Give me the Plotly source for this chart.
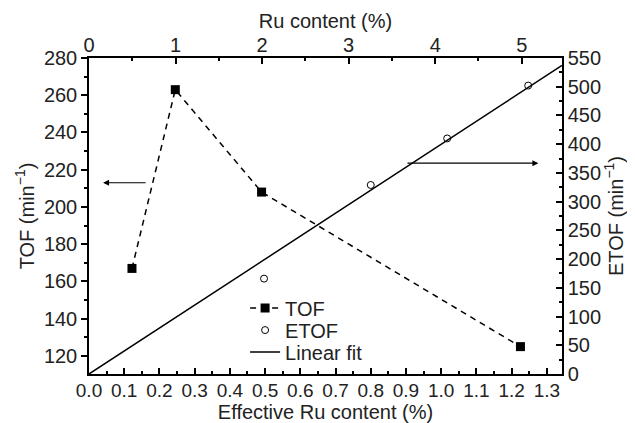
import plotly.graph_objects as go

# Data
tof_x = [0.122, 0.245, 0.49, 1.225]
tof_y = [167, 263, 208, 125]
etof_x = [0.497, 0.80, 1.017, 1.247]
etof_y = [166, 329, 410, 502]
fit_x = [0.0, 1.343]
fit_y = [0.0, 537.0]
ru_top_range = [0, 5.465]

FONT = "Liberation Sans, Arial, sans-serif"
TXT = "#222"
TS = 20
fig = go.Figure()

fig.add_trace(go.Scatter(x=tof_x, y=tof_y, mode="lines+markers", name="TOF",
                         line=dict(color="black", width=1.5, dash="6px,5px"),
                         marker=dict(symbol="square", size=9, color="black"),
                         xaxis="x", yaxis="y", legend="legend"))
fig.add_trace(go.Scatter(x=etof_x, y=etof_y, mode="markers", name="ETOF",
                         marker=dict(symbol="circle-open", size=7, color="black", line=dict(width=1)),
                         xaxis="x", yaxis="y2", legend="legend2"))
fig.add_trace(go.Scatter(x=fit_x, y=fit_y, mode="lines", name="Linear fit",
                         line=dict(color="black", width=1.5),
                         xaxis="x", yaxis="y2", legend="legend3"))
# invisible trace for the top axis
fig.add_trace(go.Scatter(x=ru_top_range, y=[150, 150], mode="markers", showlegend=False,
                         marker=dict(opacity=0), hoverinfo="skip", xaxis="x2", yaxis="y"))

axis_common = dict(showline=True, linecolor="black", linewidth=1.5, showgrid=False,
                   zeroline=False, tickcolor="black", tickwidth=1.5, ticklen=6,
                   automargin=False)

def tf(s=TS):
    return dict(family=FONT, size=s, color=TXT)

def minor(kind, d):
    return dict(ticks=kind, dtick=d, ticklen=3, tickcolor="black", tickwidth=1.5)

def title(text, so):
    return dict(text=text, standoff=so, font=tf())

def leg(yc):
    return dict(x=0.33, y=yc, xanchor="left", yanchor="middle", bgcolor="rgba(0,0,0,0)",
                font=tf(), itemwidth=30, borderwidth=0)

fig.update_layout(
    width=627, height=415,
    margin=dict(l=81, r=73, t=50, b=49, autoexpand=False),
    plot_bgcolor="white", paper_bgcolor="white",
    font=tf(),
    xaxis=dict(range=[0, 1.343], dtick=0.1, tick0=0, tickformat=".1f", ticks="inside",
               ticklabelstandoff=-2, tickfont=tf(19),
               minor=minor("inside", 0.05), title=title("Effective Ru content (%)", 2),
               **axis_common),
    xaxis2=dict(range=ru_top_range, dtick=1, tick0=0, ticks="inside", overlaying="x", side="top",
                ticklabelstandoff=-4, tickfont=tf(),
                anchor="y", minor=minor("inside", 0.5), title=title("Ru content (%)", 0),
                **axis_common),
    yaxis=dict(range=[110.3, 280], dtick=20, ticks="outside", minor=minor("outside", 10),
               tickfont=tf(), title=title("TOF (min<sup>−1</sup>)", 4), **axis_common),
    yaxis2=dict(range=[0, 550], dtick=50, ticks="inside", overlaying="y", side="right", anchor="x",
                tickfont=tf(), minor=minor("inside", 25), title=title("ETOF (min<sup>−1</sup>)", 2),
                **axis_common),
    legend=leg(0.209),
    legend2=leg(0.139),
    legend3=leg(0.070),
    showlegend=True,
)

fig.add_annotation(x=0.04, y=213, ax=0.165, ay=213, xref="x", yref="y", axref="x", ayref="y",
                   text="", showarrow=True, arrowhead=2, arrowsize=1, arrowwidth=1.2,
                   arrowcolor="black")
fig.add_annotation(x=1.276, y=367, ax=0.90, ay=367, xref="x", yref="y2", axref="x", ayref="y2",
                   text="", showarrow=True, arrowhead=2, arrowsize=1, arrowwidth=1.2,
                   arrowcolor="black")

fig.write_html("out.html")
